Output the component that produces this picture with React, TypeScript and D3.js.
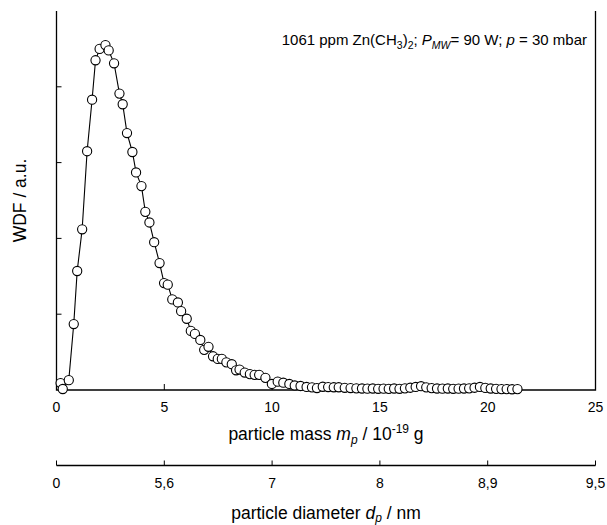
import React, { useRef, useEffect } from 'react'
import * as d3 from 'd3'

// particle mass m_p (10^-19 g) of each measured point
const massValues = [
  0.19, 0.29, 0.57, 0.80, 0.96, 1.19, 1.42, 1.65, 1.81, 2.00,
  2.27, 2.42, 2.67, 2.92, 3.07, 3.27, 3.52, 3.69, 3.94, 4.12,
  4.31, 4.53, 4.78, 4.99, 5.16, 5.37, 5.63, 5.78, 6.04, 6.23,
  6.42, 6.67, 6.85, 7.05, 7.26, 7.48, 7.67, 7.88, 8.13, 8.33,
  8.49, 8.73, 8.97, 9.19, 9.40, 9.69, 9.99, 10.26, 10.52, 10.80,
  11.05, 11.32, 11.60, 11.85, 12.08, 12.35, 12.60, 12.86, 13.09, 13.37,
  13.64, 13.91, 14.17, 14.42, 14.67, 14.92, 15.17, 15.41, 15.66, 15.91,
  16.16, 16.41, 16.66, 16.91, 17.15, 17.40, 17.65, 17.90, 18.15, 18.40,
  18.65, 18.90, 19.14, 19.39, 19.64, 19.89, 20.14, 20.39, 20.64, 20.88,
  21.13, 21.38
]

// WDF (a.u.)
const wdfValues = [
  0.092, 0.013, 0.13, 0.87, 1.57, 2.12, 3.15, 3.83, 4.35, 4.50,
  4.55, 4.48, 4.31, 3.91, 3.77, 3.39, 3.14, 2.87, 2.69, 2.35,
  2.21, 1.95, 1.675, 1.41, 1.39, 1.195, 1.155, 1.04, 0.94, 0.78,
  0.74, 0.66, 0.53, 0.57, 0.445, 0.41, 0.41, 0.365, 0.34, 0.26,
  0.27, 0.23, 0.21, 0.20, 0.20, 0.16, 0.08, 0.11, 0.096, 0.08,
  0.06, 0.053, 0.04, 0.035, 0.026, 0.043, 0.039, 0.036, 0.036, 0.029,
  0.026, 0.022, 0.02, 0.018, 0.02, 0.016, 0.018, 0.015, 0.02, 0.016,
  0.022, 0.03, 0.04, 0.05, 0.035, 0.025, 0.02, 0.018, 0.02, 0.016,
  0.018, 0.02, 0.022, 0.03, 0.04, 0.028, 0.02, 0.015, 0.012, 0.012,
  0.01, 0.012
]

const massTicks = [0, 5, 10, 15, 20, 25]
const wdfTicks = [1, 2, 3, 4]
const diameterTickMass = [0, 5, 10, 15, 20, 25]
const diameterTickLabels = ['0', '5,6', '7', '8', '8,9', '9,5']

const font = 'Liberation Sans, Arial, Helvetica, sans-serif'

export default function App() {
  const ref = useRef<SVGSVGElement>(null)
  const layout = { width: 607, height: 525, left: 56.5, right: 595.5, top: 11, bottom: 390, axis2: 465.5 }

  useEffect(() => {
    const svg = d3.select(ref.current)
    svg.selectAll('*').remove()

    const xScale = d3.scaleLinear().domain([0, 25]).range([layout.left, layout.right])
    const yScale = d3.scaleLinear().domain([0, 5]).range([layout.bottom, layout.top])

    const g = svg.append('g')

    // frame: left, bottom, right
    g.append('path')
      .attr('d', `M${layout.left},${layout.top}V${layout.bottom}H${layout.right}V${layout.top}`)
      .attr('fill', 'none')
      .attr('stroke', '#000')
      .attr('stroke-width', 1.3)

    // y ticks (inside, no labels)
    g.selectAll('.ytick')
      .data(wdfTicks)
      .join('line')
      .attr('class', 'ytick')
      .attr('x1', layout.left)
      .attr('x2', layout.left + 5)
      .attr('y1', d => yScale(d))
      .attr('y2', d => yScale(d))
      .attr('stroke', '#000')
      .attr('stroke-width', 1)

    // x ticks (inside)
    g.selectAll('.xtick')
      .data(massTicks.slice(1, -1))
      .join('line')
      .attr('class', 'xtick')
      .attr('x1', d => xScale(d))
      .attr('x2', d => xScale(d))
      .attr('y1', layout.bottom)
      .attr('y2', layout.bottom - 6)
      .attr('stroke', '#000')
      .attr('stroke-width', 1)

    g.selectAll('.xlabel')
      .data(massTicks)
      .join('text')
      .attr('class', 'xlabel')
      .attr('x', d => xScale(d))
      .attr('y', 411.5)
      .attr('text-anchor', 'middle')
      .attr('font-family', font)
      .attr('font-size', 14)
      .text(d => d)

    // secondary diameter axis
    g.append('line')
      .attr('x1', layout.left)
      .attr('x2', layout.right)
      .attr('y1', layout.axis2)
      .attr('y2', layout.axis2)
      .attr('stroke', '#000')
      .attr('stroke-width', 1.3)

    g.selectAll('.dtick')
      .data(diameterTickMass)
      .join('line')
      .attr('class', 'dtick')
      .attr('x1', d => xScale(d))
      .attr('x2', d => xScale(d))
      .attr('y1', layout.axis2)
      .attr('y2', layout.axis2 - 5)
      .attr('stroke', '#000')
      .attr('stroke-width', 1)

    g.selectAll('.dlabel')
      .data(diameterTickMass)
      .join('text')
      .attr('class', 'dlabel')
      .attr('x', d => xScale(d))
      .attr('y', 487.5)
      .attr('text-anchor', 'middle')
      .attr('font-family', font)
      .attr('font-size', 14)
      .text((d, i) => diameterTickLabels[i])

    // data line + markers
    const points = massValues.map((m, i) => [m, wdfValues[i]] as [number, number])
    const line = d3.line<[number, number]>().x(d => xScale(d[0])).y(d => yScale(d[1]))

    g.append('path')
      .datum(points)
      .attr('d', line)
      .attr('fill', 'none')
      .attr('stroke', '#000')
      .attr('stroke-width', 1.1)

    g.selectAll('.pt')
      .data(points)
      .join('circle')
      .attr('class', 'pt')
      .attr('cx', d => xScale(d[0]))
      .attr('cy', d => yScale(d[1]))
      .attr('r', 4.6)
      .attr('fill', '#fff')
      .attr('stroke', '#000')
      .attr('stroke-width', 1.1)

    // annotation
    const ann = g.append('text')
      .attr('x', 587)
      .attr('y', 45)
      .attr('text-anchor', 'end')
      .attr('font-family', font)
      .attr('font-size', 15)
    ann.append('tspan').text('1061 ppm Zn(CH')
    ann.append('tspan').attr('dy', 4).attr('font-size', 10.5).text('3')
    ann.append('tspan').attr('dy', -4).text(')')
    ann.append('tspan').attr('dy', 4).attr('font-size', 10.5).text('2')
    ann.append('tspan').attr('dy', -4).text('; ')
    ann.append('tspan').attr('font-style', 'italic').text('P')
    ann.append('tspan').attr('dy', 4).attr('font-size', 10.5).attr('font-style', 'italic').text('MW')
    ann.append('tspan').attr('dy', -4).text('= 90 W; ')
    ann.append('tspan').attr('font-style', 'italic').text('p')
    ann.append('tspan').text(' = 30 mbar')

    // x title
    const xt = g.append('text')
      .attr('x', (layout.left + layout.right) / 2)
      .attr('y', 440)
      .attr('text-anchor', 'middle')
      .attr('font-family', font)
      .attr('font-size', 17.5)
    xt.append('tspan').text('particle mass ')
    xt.append('tspan').attr('font-style', 'italic').text('m')
    xt.append('tspan').attr('dy', 4).attr('font-size', 12).attr('font-style', 'italic').text('p')
    xt.append('tspan').attr('dy', -4).text(' / 10')
    xt.append('tspan').attr('dy', -7).attr('font-size', 12).text('-19')
    xt.append('tspan').attr('dy', 7).text(' g')

    // diameter title
    const dt = g.append('text')
      .attr('x', (layout.left + layout.right) / 2)
      .attr('y', 518.5)
      .attr('text-anchor', 'middle')
      .attr('font-family', font)
      .attr('font-size', 17.5)
    dt.append('tspan').text('particle diameter ')
    dt.append('tspan').attr('font-style', 'italic').text('d')
    dt.append('tspan').attr('dy', 3).attr('font-size', 12).attr('font-style', 'italic').text('p')
    dt.append('tspan').attr('dy', -3).text(' / nm')

    // y title
    g.append('text')
      .attr('transform', `translate(26, ${(layout.top + layout.bottom) / 2}) rotate(-90)`)
      .attr('text-anchor', 'middle')
      .attr('font-family', font)
      .attr('font-size', 17.5)
      .text('WDF / a.u.')
  }, [])

  return (
    <div>
      <svg
        ref={ref}
        width={layout.width}
        height={layout.height}
        style={{ position: 'absolute', left: 0, top: 0, background: '#fff' }}
      />
    </div>
  )
}
